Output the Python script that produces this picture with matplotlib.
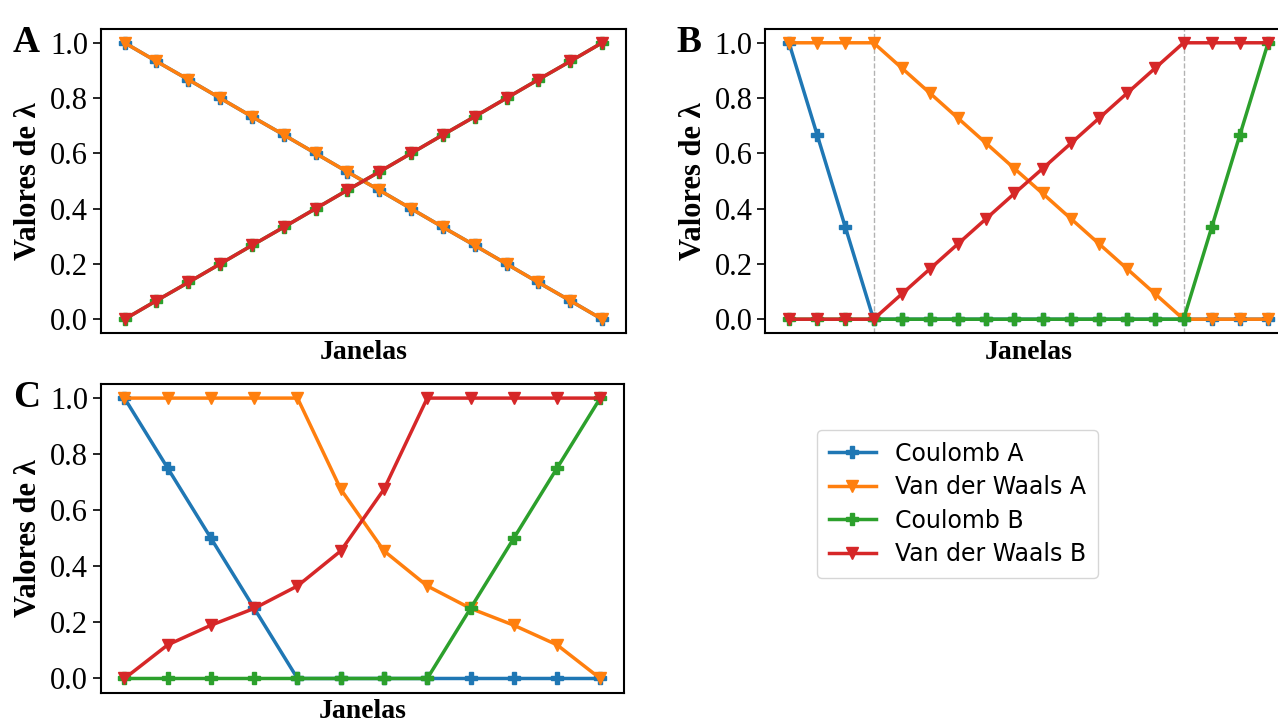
import matplotlib
matplotlib.use("Agg")
import matplotlib.pyplot as plt
import numpy as np

plt.rcParams["font.family"] = "serif"
plt.rcParams["font.serif"] = ["Liberation Serif", "DejaVu Serif"]

labels = ["Coulomb A", "Van der Waals A", "Coulomb B", "Van der Waals B"]
colors = ["#1f77b4", "#ff7f0e", "#2ca02c", "#d62728"]
markers = ["P", "v", "P", "v"]

# Panel A: 16 windows, linear coupling
a_down = [1.0, 0.933, 0.867, 0.8, 0.733, 0.667, 0.6, 0.533,
          0.467, 0.4, 0.333, 0.267, 0.2, 0.133, 0.067, 0.0]
a_up = [0.0, 0.067, 0.133, 0.2, 0.267, 0.333, 0.4, 0.467,
        0.533, 0.6, 0.667, 0.733, 0.8, 0.867, 0.933, 1.0]
panel_a = [a_down, a_down, a_up, a_up]

# Panel B: 18 windows
b_coul_a = [1.0, 0.667, 0.333, 0.0, 0.0, 0.0, 0.0, 0.0, 0.0,
            0.0, 0.0, 0.0, 0.0, 0.0, 0.0, 0.0, 0.0, 0.0]
b_vdw_a = [1.0, 1.0, 1.0, 1.0, 0.909, 0.818, 0.727, 0.636, 0.545,
           0.455, 0.364, 0.273, 0.182, 0.091, 0.0, 0.0, 0.0, 0.0]
b_coul_b = [0.0, 0.0, 0.0, 0.0, 0.0, 0.0, 0.0, 0.0, 0.0,
            0.0, 0.0, 0.0, 0.0, 0.0, 0.0, 0.333, 0.667, 1.0]
b_vdw_b = [0.0, 0.0, 0.0, 0.0, 0.091, 0.182, 0.273, 0.364, 0.455,
           0.545, 0.636, 0.727, 0.818, 0.909, 1.0, 1.0, 1.0, 1.0]
panel_b = [b_coul_a, b_vdw_a, b_coul_b, b_vdw_b]
b_breaks = [3, 14]

# Panel C: 12 windows
c_coul_a = [1.0, 0.75, 0.5, 0.25, 0.0, 0.0, 0.0, 0.0, 0.0, 0.0, 0.0, 0.0]
c_vdw_a = [1.0, 1.0, 1.0, 1.0, 1.0, 0.675, 0.455, 0.33, 0.25, 0.19, 0.12, 0.0]
c_coul_b = [0.0, 0.0, 0.0, 0.0, 0.0, 0.0, 0.0, 0.0, 0.25, 0.5, 0.75, 1.0]
c_vdw_b = [0.0, 0.12, 0.19, 0.25, 0.33, 0.455, 0.675, 1.0, 1.0, 1.0, 1.0, 1.0]
panel_c = [c_coul_a, c_vdw_a, c_coul_b, c_vdw_b]

fig = plt.figure(figsize=(12.78, 7.24), dpi=100)
ax_a = fig.add_axes([0.0788, 0.540, 0.4110, 0.420])
ax_b = fig.add_axes([0.5986, 0.540, 0.4124, 0.420])
ax_c = fig.add_axes([0.0788, 0.0435, 0.4095, 0.426])


def draw(ax, series, letter):
    for vals, lab, col, mk in zip(series, labels, colors, markers):
        x = np.arange(len(vals))
        ax.plot(x, vals, color=col, marker=mk, markersize=9, linewidth=2.5, label=lab)
    ax.set_xticks([])
    ax.set_yticks([0.0, 0.2, 0.4, 0.6, 0.8, 1.0])
    ax.tick_params(axis="y", labelsize=22, length=6, width=1.2, pad=3)
    ax.set_xlabel("Janelas", fontsize=20, fontweight="bold", labelpad=5)
    ax.set_ylabel("Valores de λ", fontsize=22, fontweight="bold", labelpad=5)
    for sp in ax.spines.values():
        sp.set_linewidth(1.5)
    ax.text(-0.168, 0.955, letter, transform=ax.transAxes, fontsize=27,
            fontweight="bold", ha="left", va="center")


draw(ax_a, panel_a, "A")
draw(ax_b, panel_b, "B")
draw(ax_c, panel_c, "C")

for bx in b_breaks:
    ax_b.axvline(bx, color="gray", linestyle="--", linewidth=1, alpha=0.6, zorder=0)

handles, leg_labels = ax_c.get_legend_handles_labels()
fig.legend(handles, leg_labels, loc="center", bbox_to_anchor=(0.749, 0.304),
           prop={"family": "DejaVu Sans", "size": 17}, frameon=True,
           handlelength=2.0, borderpad=0.5, labelspacing=0.4)

fig.savefig("out.png", dpi=100)
